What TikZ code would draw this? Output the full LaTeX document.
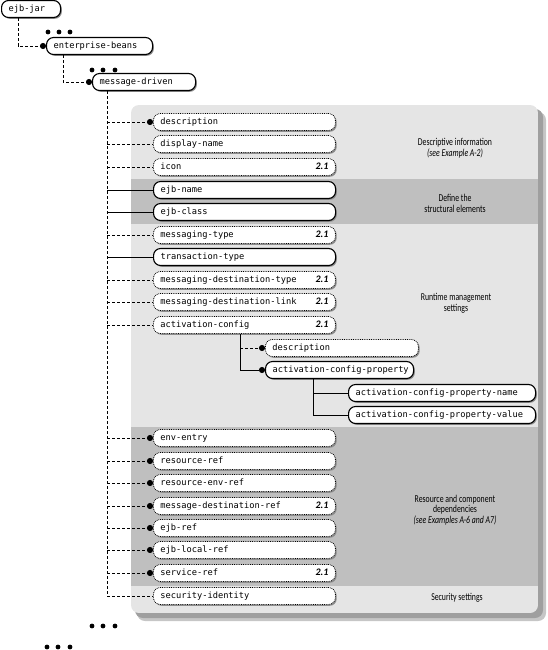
\documentclass[tikz,border=0pt]{standalone}
\usepackage{fontspec}
\usepackage{tikz}
\usetikzlibrary{arrows.meta,shadows}

\newfontfamily\elemfont{DejaVu Sans Mono}
\newfontfamily\notefont[FakeStretch=0.74]{Carlito}
\newfontfamily\verfont{Carlito}
\newcommand{\ver}{\hskip0pt plus1fill{\verfont\fontsize{10}{10}\selectfont\bfseries\itshape 2.1}}

\tikzset{
  elem/.style={draw, fill=white, rounded corners=7pt, anchor=west,
    minimum height=17pt, inner xsep=7pt, inner ysep=0pt,
    text width=#1, align=left, text height=6.5pt, text depth=1.8pt,
    font=\elemfont\fontsize{8.7}{10}\selectfont\exhyphenpenalty10000 \hyphenpenalty10000 ,
    drop shadow={shadow xshift=1.3pt, shadow yshift=-1.3pt, fill=black!45, opacity=1}},
  opt/.style={elem={#1}, densely dotted, line width=0.8pt},
  req/.style={elem={#1}, line width=1.1pt},
  conn/.style={line width=0.7pt, dash pattern=on 3pt off 2pt},
  must/.style={line width=0.9pt},
  dot/.style={-{Circle[length=6pt]}},
  note/.style={align=center, font=\notefont\fontsize{10.5}{10.8}\selectfont}
}

\begin{document}
\begin{tikzpicture}[x=1pt,y=-1pt]
    \useasboundingbox (0,0) rectangle (547,650);
    % panel with its shadow and bands
    \fill[gray!45, rounded corners=8pt] (137,112) rectangle (546,621);
    \fill[gray!75, rounded corners=8pt] (135,109) rectangle (543,618);
    \begin{scope}
        \clip[rounded corners=8pt] (131,105) rectangle (538,613);
        \fill[gray!20] (131,105) rectangle (538,613);
        \fill[gray!50] (131,179) rectangle (538,224);
        \fill[gray!50] (131,427) rectangle (538,586);
    \end{scope}

    % more elements not shown
    \foreach \x in {48,59,70} \fill (\x,32) circle (2.4pt);
    \foreach \x in {92,103,115} \fill (\x,70) circle (2.4pt);
    \foreach \x in {92,103,115} \fill (\x,626) circle (2.4pt);
    \foreach \x in {47,58,70} \fill (\x,647) circle (2.4pt);

    % top of the tree
    \node[req=45] (jar) at (1,9) {ejb-jar};
    \node[req=92] (beans) at (46,46) {enterprise-beans};
    \node[req=89] (mdb) at (92,82) {message-driven};

    % children of message-driven
    \node[opt=168] (desc) at (153,122) {description};
    \node[opt=168] (dname) at (153,144) {display-name};
    \node[opt=168] (icon) at (153,167) {icon\ver};
    \node[req=168] (ejbname) at (153,190) {ejb-name};
    \node[req=168] (ejbclass) at (153,212) {ejb-class};
    \node[opt=168] (msgtype) at (153,235) {messaging-type\ver};
    \node[req=168] (txtype) at (153,257) {transaction-type};
    \node[opt=168] (mdtype) at (153,280) {messaging-destination-type\ver};
    \node[opt=168] (mdlink) at (153,302) {messaging-destination-link\ver};
    \node[opt=168] (actcfg) at (153,325) {activation-config\ver};
    \node[opt=139] (acdesc) at (265,348) {description};
    \node[req=134] (acprop) at (265,370) {activation-config-property};
    \node[req=173] (acpname) at (348,393) {activation-config-property-name};
    \node[req=173] (acpvalue) at (348,415) {activation-config-property-value};
    \node[opt=168] (enventry) at (153,438) {env-entry};
    \node[opt=168] (resref) at (153,461) {resource-ref};
    \node[opt=168] (resenvref) at (153,483) {resource-env-ref};
    \node[opt=168] (msgdestref) at (153,506) {message-destination-ref\ver};
    \node[opt=168] (ejbref) at (153,528) {ejb-ref};
    \node[opt=168] (ejblocalref) at (153,550) {ejb-local-ref};
    \node[opt=168] (serviceref) at (153,573) {service-ref\ver};
    \node[opt=168] (secid) at (153,596) {security-identity};

    % side notes
    \node[note] (nDesc) at (455,148) {Descriptive information\\\textit{(see Example A-2)}};
    \node[note] (nStruct) at (455,203) {Define the\\structural elements};
    \node[note] (nRun) at (456,303) {Runtime management\\settings};
    \node[note] (nRes) at (455,510) {Resource and component\\dependencies\\\textit{(see Examples A-6 and A7)}};
    \node[note] (nSec) at (457,598) {Security settings};

    % connectors
    \draw[conn, dot] ([xshift=17pt]jar.south west) |- (beans.west);
    \draw[conn, dot] ([xshift=17pt]beans.south west) |- (mdb.west);
    \coordinate (trunk) at ([xshift=15pt]mdb.south west);
    \draw[conn] (trunk) |- (secid.west);
    \foreach \n in {desc,enventry,resref,resenvref,msgdestref,ejbref,ejblocalref,serviceref}
        \draw[conn, dot] (trunk |- \n.west) -- (\n.west);
    \foreach \n in {dname,icon,msgtype,mdtype,mdlink,actcfg}
        \draw[conn] (trunk |- \n.west) -- (\n.west);
    \foreach \n in {ejbname,ejbclass,txtype}
        \draw[must] (trunk |- \n.west) -- (\n.west);

    \coordinate (acTrunk) at ([xshift=87pt]actcfg.south west);
    \draw[must, dot] (acTrunk) |- (acprop.west);
    \draw[conn, dot] (acTrunk |- acdesc.west) -- (acdesc.west);
    \coordinate (propTrunk) at ([xshift=48pt]acprop.south west);
    \draw[must] (propTrunk) |- (acpvalue.west);
    \draw[must] (propTrunk |- acpname.west) -- (acpname.west);
\end{tikzpicture}
\end{document}
